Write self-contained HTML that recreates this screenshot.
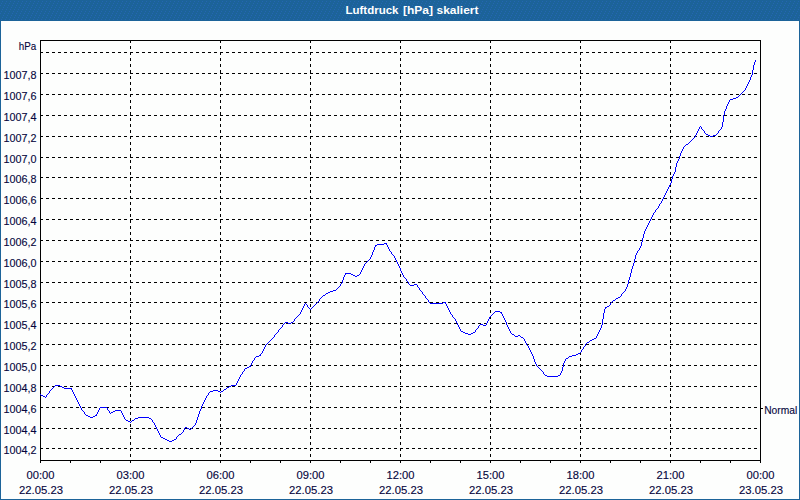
<!DOCTYPE html>
<html lang="de"><head><meta charset="utf-8"><title>Luftdruck [hPa] skaliert</title>
<style>
html,body{margin:0;padding:0;background:#fff;}
body{width:800px;height:500px;overflow:hidden;}
svg{display:block;}
text{font-family:"Liberation Sans",sans-serif;font-size:11px;}
.t{fill:#05053c;stroke:#05053c;stroke-width:0.12px;}
.g{stroke:#000;stroke-width:1;stroke-dasharray:3 3;shape-rendering:crispEdges;fill:none;}
.a{stroke:#000;stroke-width:1;shape-rendering:crispEdges;fill:none;}
</style></head><body>
<svg width="800" height="500" viewBox="0 0 800 500">
<defs><pattern id="dth" width="4" height="8" patternUnits="userSpaceOnUse"><rect width="4" height="8" fill="#1c6399"/><path d="M2 1h1v1h-1zM1 3h1v1h-1zM0 5h1v1h-1zM3 7h1v1h-1z" fill="#2466b2" shape-rendering="crispEdges"/></pattern></defs>
<rect x="0" y="0" width="800" height="500" fill="#1c6399"/>
<rect x="0" y="0" width="800" height="21" fill="url(#dth)"/>
<rect x="1" y="21" width="798" height="478" fill="#fdfefd"/>
<g fill="#fff" font-weight="bold"><text x="345.5" y="14" textLength="53" lengthAdjust="spacingAndGlyphs">Luftdruck</text>
<text x="403" y="14" textLength="30" lengthAdjust="spacingAndGlyphs">[hPa]</text>
<text x="436.5" y="14" textLength="42" lengthAdjust="spacingAndGlyphs">skaliert</text></g>

<line class="g" x1="40" y1="52.5" x2="760" y2="52.5"/>
<line class="g" x1="40" y1="73.5" x2="760" y2="73.5"/>
<line class="g" x1="40" y1="94.5" x2="760" y2="94.5"/>
<line class="g" x1="40" y1="115.5" x2="760" y2="115.5"/>
<line class="g" x1="40" y1="136.5" x2="760" y2="136.5"/>
<line class="g" x1="40" y1="157.5" x2="760" y2="157.5"/>
<line class="g" x1="40" y1="177.5" x2="760" y2="177.5"/>
<line class="g" x1="40" y1="198.5" x2="760" y2="198.5"/>
<line class="g" x1="40" y1="219.5" x2="760" y2="219.5"/>
<line class="g" x1="40" y1="240.5" x2="760" y2="240.5"/>
<line class="g" x1="40" y1="261.5" x2="760" y2="261.5"/>
<line class="g" x1="40" y1="282.5" x2="760" y2="282.5"/>
<line class="g" x1="40" y1="302.5" x2="760" y2="302.5"/>
<line class="g" x1="40" y1="323.5" x2="760" y2="323.5"/>
<line class="g" x1="40" y1="344.5" x2="760" y2="344.5"/>
<line class="g" x1="40" y1="365.5" x2="760" y2="365.5"/>
<line class="g" x1="40" y1="386.5" x2="760" y2="386.5"/>
<line class="g" x1="40" y1="407.5" x2="760" y2="407.5"/>
<line class="g" x1="40" y1="428.5" x2="760" y2="428.5"/>
<line class="g" x1="40" y1="448.5" x2="760" y2="448.5"/>
<line class="g" x1="130.5" y1="40" x2="130.5" y2="460"/>
<line class="g" x1="220.5" y1="40" x2="220.5" y2="460"/>
<line class="g" x1="310.5" y1="40" x2="310.5" y2="460"/>
<line class="g" x1="400.5" y1="40" x2="400.5" y2="460"/>
<line class="g" x1="490.5" y1="40" x2="490.5" y2="460"/>
<line class="g" x1="580.5" y1="40" x2="580.5" y2="460"/>
<line class="g" x1="670.5" y1="40" x2="670.5" y2="460"/>
<rect class="a" x="40.5" y="40.5" width="720" height="420"/>
<line class="a" x1="40.5" y1="461" x2="40.5" y2="463"/>
<line class="a" x1="70.5" y1="461" x2="70.5" y2="463"/>
<line class="a" x1="100.5" y1="461" x2="100.5" y2="463"/>
<line class="a" x1="130.5" y1="461" x2="130.5" y2="463"/>
<line class="a" x1="160.5" y1="461" x2="160.5" y2="463"/>
<line class="a" x1="190.5" y1="461" x2="190.5" y2="463"/>
<line class="a" x1="220.5" y1="461" x2="220.5" y2="463"/>
<line class="a" x1="250.5" y1="461" x2="250.5" y2="463"/>
<line class="a" x1="280.5" y1="461" x2="280.5" y2="463"/>
<line class="a" x1="310.5" y1="461" x2="310.5" y2="463"/>
<line class="a" x1="340.5" y1="461" x2="340.5" y2="463"/>
<line class="a" x1="370.5" y1="461" x2="370.5" y2="463"/>
<line class="a" x1="400.5" y1="461" x2="400.5" y2="463"/>
<line class="a" x1="430.5" y1="461" x2="430.5" y2="463"/>
<line class="a" x1="460.5" y1="461" x2="460.5" y2="463"/>
<line class="a" x1="490.5" y1="461" x2="490.5" y2="463"/>
<line class="a" x1="520.5" y1="461" x2="520.5" y2="463"/>
<line class="a" x1="550.5" y1="461" x2="550.5" y2="463"/>
<line class="a" x1="580.5" y1="461" x2="580.5" y2="463"/>
<line class="a" x1="610.5" y1="461" x2="610.5" y2="463"/>
<line class="a" x1="640.5" y1="461" x2="640.5" y2="463"/>
<line class="a" x1="670.5" y1="461" x2="670.5" y2="463"/>
<line class="a" x1="700.5" y1="461" x2="700.5" y2="463"/>
<line class="a" x1="730.5" y1="461" x2="730.5" y2="463"/>
<line class="a" x1="760.5" y1="461" x2="760.5" y2="463"/>
<line class="a" x1="761" y1="408.5" x2="763" y2="408.5"/>
<path d="M40 394h1v1h-1zM41 395h2v1h-2zM43 396h2v1h-2zM45 397h1v1h-1zM46 395h1v2h-1zM47 394h1v1h-1zM48 393h1v1h-1zM49 391h1v2h-1zM50 390h1v1h-1zM51 389h1v1h-1zM52 388h1v1h-1zM53 387h1v1h-1zM54 386h1v1h-1zM55 385h5v1h-5zM60 386h2v1h-2zM62 387h2v1h-2zM64 388h8v1h-8zM71 389h1v1h-1zM72 390h1v2h-1zM73 392h1v2h-1zM74 394h1v2h-1zM75 396h1v2h-1zM76 398h1v2h-1zM77 400h1v2h-1zM78 402h1v2h-1zM79 404h1v2h-1zM80 406h1v2h-1zM81 408h1v2h-1zM82 410h1v1h-1zM83 411h1v1h-1zM84 412h1v2h-1zM85 414h1v1h-1zM86 415h2v1h-2zM88 416h2v1h-2zM90 417h3v1h-3zM93 416h2v1h-2zM95 415h2v1h-2zM96 414h1v1h-1zM97 412h1v2h-1zM98 410h1v2h-1zM99 408h1v2h-1zM100 407h7v1h-7zM107 408h1v2h-1zM108 410h1v1h-1zM109 411h1v2h-1zM110 413h1v1h-1zM111 412h2v1h-2zM113 411h2v1h-2zM115 410h6v1h-6zM121 411h1v2h-1zM122 413h1v2h-1zM123 415h1v2h-1zM124 417h1v2h-1zM125 419h1v1h-1zM126 420h2v1h-2zM128 421h2v1h-2zM130 422h1v1h-1zM131 421h1v1h-1zM132 420h2v1h-2zM134 419h1v1h-1zM135 418h3v1h-3zM138 417h11v1h-11zM149 418h2v1h-2zM151 419h1v1h-1zM152 420h1v2h-1zM153 422h1v1h-1zM154 423h1v2h-1zM155 425h1v2h-1zM156 427h1v2h-1zM157 429h1v2h-1zM158 431h1v2h-1zM159 433h1v2h-1zM160 435h1v2h-1zM161 437h2v1h-2zM163 438h2v1h-2zM165 439h2v1h-2zM167 440h2v1h-2zM169 441h3v1h-3zM172 440h2v1h-2zM174 439h2v1h-2zM176 437h1v2h-1zM177 436h1v1h-1zM178 435h1v1h-1zM179 434h2v1h-2zM181 433h1v1h-1zM182 432h1v1h-1zM183 430h1v2h-1zM184 428h1v2h-1zM185 427h2v1h-2zM187 428h2v1h-2zM189 429h2v1h-2zM191 428h1v1h-1zM192 427h1v1h-1zM193 426h1v1h-1zM194 425h1v1h-1zM195 423h1v2h-1zM196 420h1v3h-1zM197 417h1v3h-1zM198 414h1v3h-1zM199 411h1v3h-1zM200 409h1v2h-1zM201 406h1v3h-1zM202 404h1v2h-1zM203 402h1v2h-1zM204 400h1v2h-1zM205 398h1v2h-1zM206 396h1v2h-1zM207 395h1v1h-1zM208 393h1v2h-1zM209 392h1v1h-1zM210 391h3v1h-3zM213 390h5v1h-5zM218 391h2v1h-2zM220 392h1v1h-1zM221 391h2v1h-2zM223 390h1v1h-1zM224 389h2v1h-2zM226 388h1v1h-1zM227 387h2v1h-2zM229 386h2v1h-2zM231 385h5v1h-5zM236 383h1v2h-1zM237 381h1v2h-1zM238 379h1v2h-1zM239 377h1v2h-1zM240 375h1v2h-1zM241 374h1v1h-1zM242 372h1v2h-1zM243 371h1v1h-1zM244 369h1v2h-1zM245 368h2v1h-2zM247 367h2v1h-2zM249 366h2v1h-2zM250 365h1v1h-1zM251 363h1v2h-1zM252 361h1v2h-1zM253 360h1v1h-1zM254 358h1v2h-1zM255 357h1v1h-1zM256 356h3v1h-3zM259 355h2v1h-2zM260 354h1v1h-1zM261 353h1v1h-1zM262 351h1v2h-1zM263 349h1v2h-1zM264 347h1v2h-1zM265 345h1v2h-1zM266 344h1v1h-1zM267 343h1v1h-1zM268 342h1v1h-1zM269 341h1v1h-1zM270 340h1v1h-1zM271 339h1v1h-1zM272 338h1v1h-1zM273 337h1v1h-1zM274 335h1v2h-1zM275 334h1v1h-1zM276 333h1v1h-1zM277 332h1v1h-1zM278 330h1v2h-1zM279 329h1v1h-1zM280 328h1v1h-1zM281 327h1v1h-1zM282 325h1v2h-1zM283 324h1v1h-1zM284 323h1v1h-1zM285 322h3v1h-3zM288 323h3v1h-3zM291 322h2v1h-2zM293 321h1v1h-1zM294 319h1v2h-1zM295 318h1v1h-1zM296 317h1v1h-1zM297 316h1v1h-1zM298 315h1v1h-1zM299 314h1v1h-1zM300 312h1v2h-1zM301 310h1v2h-1zM302 308h1v2h-1zM303 306h1v2h-1zM304 304h1v2h-1zM305 303h1v1h-1zM306 304h1v1h-1zM307 305h1v2h-1zM308 307h1v1h-1zM309 308h1v1h-1zM310 309h1v1h-1zM311 308h1v1h-1zM312 307h1v1h-1zM313 306h1v1h-1zM314 305h1v1h-1zM315 304h1v1h-1zM316 303h1v1h-1zM317 302h1v1h-1zM318 301h1v1h-1zM319 299h1v2h-1zM320 298h1v1h-1zM321 297h1v1h-1zM322 296h1v1h-1zM323 295h2v1h-2zM325 294h1v1h-1zM326 293h2v1h-2zM328 292h2v1h-2zM330 291h3v1h-3zM333 290h3v1h-3zM336 289h1v1h-1zM337 288h1v1h-1zM338 287h1v1h-1zM339 286h1v1h-1zM340 284h1v2h-1zM341 283h1v1h-1zM342 280h1v3h-1zM343 277h1v3h-1zM344 275h1v2h-1zM345 273h6v1h-6zM345 274h1v1h-1zM351 274h2v1h-2zM353 275h2v1h-2zM355 276h2v1h-2zM357 275h2v1h-2zM359 274h1v1h-1zM360 272h1v2h-1zM361 270h1v2h-1zM362 268h1v2h-1zM363 266h1v2h-1zM364 264h1v2h-1zM365 263h1v1h-1zM366 262h1v1h-1zM367 261h1v1h-1zM368 260h1v1h-1zM369 259h1v1h-1zM370 257h1v2h-1zM371 255h1v2h-1zM372 252h1v3h-1zM373 250h1v2h-1zM374 247h1v3h-1zM375 245h2v1h-2zM375 246h1v1h-1zM377 244h7v1h-7zM384 243h3v1h-3zM386 244h1v1h-1zM387 245h1v2h-1zM388 247h1v2h-1zM389 249h1v2h-1zM390 251h1v1h-1zM391 252h1v2h-1zM392 254h1v1h-1zM393 255h1v1h-1zM394 256h1v2h-1zM395 258h1v2h-1zM396 260h1v2h-1zM397 262h1v2h-1zM398 264h1v2h-1zM399 266h1v2h-1zM400 268h1v3h-1zM401 271h1v2h-1zM402 273h1v2h-1zM403 275h1v2h-1zM404 277h1v1h-1zM405 278h1v1h-1zM406 279h1v2h-1zM407 281h1v1h-1zM408 282h1v2h-1zM409 284h1v1h-1zM410 285h4v1h-4zM414 284h3v1h-3zM417 285h1v2h-1zM418 287h1v1h-1zM419 288h1v2h-1zM420 290h1v1h-1zM421 291h1v1h-1zM422 292h1v2h-1zM423 294h1v1h-1zM424 295h1v1h-1zM425 296h1v2h-1zM426 298h1v1h-1zM427 299h1v1h-1zM428 300h1v2h-1zM429 302h1v1h-1zM430 303h13v1h-13zM443 302h3v1h-3zM445 303h1v1h-1zM446 304h1v2h-1zM447 306h1v2h-1zM448 308h1v2h-1zM449 310h1v2h-1zM450 312h1v2h-1zM451 314h1v1h-1zM452 315h1v2h-1zM453 317h1v1h-1zM454 318h1v1h-1zM455 319h1v2h-1zM456 321h1v2h-1zM457 323h1v2h-1zM458 325h1v2h-1zM459 327h1v2h-1zM460 329h1v2h-1zM461 331h2v1h-2zM463 332h2v1h-2zM465 333h3v1h-3zM468 334h3v1h-3zM471 333h2v1h-2zM473 332h2v1h-2zM475 330h1v2h-1zM476 329h1v1h-1zM477 328h1v1h-1zM478 326h1v2h-1zM479 325h1v1h-1zM480 324h3v1h-3zM483 325h3v1h-3zM486 323h1v2h-1zM487 321h1v2h-1zM488 319h1v2h-1zM489 317h1v2h-1zM490 316h1v1h-1zM491 315h1v1h-1zM492 314h1v1h-1zM493 313h1v1h-1zM494 312h1v1h-1zM495 311h5v1h-5zM500 312h2v1h-2zM501 313h1v1h-1zM502 314h1v2h-1zM503 316h1v2h-1zM504 318h1v2h-1zM505 320h1v2h-1zM506 322h1v3h-1zM507 325h1v2h-1zM508 327h1v2h-1zM509 329h1v2h-1zM510 331h1v2h-1zM511 333h1v1h-1zM512 334h2v1h-2zM514 335h1v1h-1zM515 336h3v1h-3zM518 335h2v1h-2zM520 336h1v1h-1zM521 337h2v1h-2zM523 338h1v1h-1zM524 339h1v2h-1zM525 341h1v2h-1zM526 343h1v2h-1zM527 345h1v1h-1zM528 346h1v2h-1zM529 348h1v2h-1zM530 350h1v2h-1zM531 352h1v2h-1zM532 354h1v2h-1zM533 356h1v3h-1zM534 359h1v3h-1zM535 362h1v2h-1zM536 364h1v2h-1zM537 366h1v1h-1zM538 367h1v1h-1zM539 368h1v1h-1zM540 369h1v1h-1zM541 370h1v1h-1zM542 371h1v1h-1zM543 372h1v2h-1zM544 374h1v1h-1zM545 375h2v1h-2zM547 376h11v1h-11zM558 375h2v1h-2zM560 373h1v2h-1zM561 371h1v2h-1zM562 367h1v4h-1zM563 363h1v4h-1zM564 361h1v2h-1zM565 359h1v2h-1zM566 358h2v1h-2zM568 357h1v1h-1zM569 356h3v1h-3zM572 355h4v1h-4zM576 354h2v1h-2zM578 353h2v1h-2zM580 352h1v1h-1zM581 350h1v2h-1zM582 349h1v1h-1zM583 347h1v2h-1zM584 346h1v1h-1zM585 344h1v2h-1zM586 343h1v1h-1zM587 342h2v1h-2zM589 341h1v1h-1zM590 340h2v1h-2zM592 339h2v1h-2zM594 338h2v1h-2zM596 336h1v2h-1zM597 334h1v2h-1zM598 332h1v2h-1zM599 330h1v2h-1zM600 328h1v2h-1zM601 325h1v3h-1zM602 319h1v6h-1zM603 313h1v6h-1zM604 309h1v4h-1zM605 307h2v1h-2zM605 308h1v1h-1zM607 306h2v1h-2zM609 305h1v1h-1zM610 303h1v2h-1zM611 302h1v1h-1zM612 301h1v1h-1zM613 300h2v1h-2zM615 299h1v1h-1zM616 298h2v1h-2zM618 297h2v1h-2zM620 296h1v1h-1zM621 294h1v2h-1zM622 293h1v1h-1zM623 292h1v1h-1zM624 291h1v1h-1zM625 289h1v2h-1zM626 287h1v2h-1zM627 284h1v3h-1zM628 280h1v4h-1zM629 277h1v3h-1zM630 273h1v4h-1zM631 269h1v4h-1zM632 266h1v3h-1zM633 263h1v3h-1zM634 259h1v4h-1zM635 255h1v4h-1zM636 253h1v2h-1zM637 251h1v2h-1zM638 250h1v1h-1zM639 248h1v2h-1zM640 246h1v2h-1zM641 242h1v4h-1zM642 238h1v4h-1zM643 234h1v4h-1zM644 231h1v3h-1zM645 229h1v2h-1zM646 227h1v2h-1zM647 225h1v2h-1zM648 223h1v2h-1zM649 221h1v2h-1zM650 219h1v2h-1zM651 217h1v2h-1zM652 215h1v2h-1zM653 213h1v2h-1zM654 212h1v1h-1zM655 210h1v2h-1zM656 209h1v1h-1zM657 208h1v1h-1zM658 206h1v2h-1zM659 204h1v2h-1zM660 203h1v1h-1zM661 201h1v2h-1zM662 199h1v2h-1zM663 197h1v2h-1zM664 195h1v2h-1zM665 193h1v2h-1zM666 191h1v2h-1zM667 189h1v2h-1zM668 187h1v2h-1zM669 185h1v2h-1zM670 183h1v2h-1zM671 179h1v4h-1zM672 176h1v3h-1zM673 174h1v2h-1zM674 172h1v2h-1zM675 167h1v5h-1zM676 163h1v4h-1zM677 161h1v2h-1zM678 159h1v2h-1zM679 156h1v3h-1zM680 153h1v3h-1zM681 151h1v2h-1zM682 149h1v2h-1zM683 147h1v2h-1zM684 146h1v1h-1zM685 145h1v1h-1zM686 144h2v1h-2zM688 143h1v1h-1zM689 142h1v1h-1zM690 141h1v1h-1zM691 140h1v1h-1zM692 139h1v1h-1zM693 138h1v1h-1zM694 137h1v1h-1zM695 135h1v2h-1zM696 133h1v2h-1zM697 131h1v2h-1zM698 129h1v2h-1zM699 127h1v2h-1zM700 126h1v1h-1zM701 127h1v2h-1zM702 129h1v1h-1zM703 130h1v1h-1zM704 131h1v2h-1zM705 133h1v1h-1zM706 134h2v1h-2zM708 135h2v1h-2zM710 136h3v1h-3zM713 135h3v1h-3zM716 134h1v1h-1zM717 133h1v1h-1zM718 131h1v2h-1zM719 130h1v1h-1zM720 129h1v1h-1zM721 127h1v2h-1zM722 122h1v5h-1zM723 115h1v7h-1zM724 111h1v4h-1zM725 109h1v2h-1zM726 106h1v3h-1zM727 104h1v2h-1zM728 102h1v2h-1zM729 100h1v2h-1zM730 99h3v1h-3zM733 98h3v1h-3zM736 97h2v1h-2zM738 96h1v1h-1zM739 95h1v1h-1zM740 94h1v1h-1zM741 93h1v1h-1zM742 92h1v1h-1zM743 91h1v1h-1zM744 90h1v1h-1zM745 88h1v2h-1zM746 86h1v2h-1zM747 84h1v2h-1zM748 82h1v2h-1zM749 80h1v2h-1zM750 77h1v3h-1zM751 75h1v2h-1zM752 70h1v5h-1zM753 65h1v5h-1zM754 62h1v3h-1zM755 60h1v2h-1z" fill="#0000ff" shape-rendering="crispEdges"/>
<text class="t" x="36.2" y="50" text-anchor="end" textLength="17.5" lengthAdjust="spacingAndGlyphs">hPa</text>
<text class="t" x="36.6" y="79" text-anchor="end" textLength="33" lengthAdjust="spacingAndGlyphs">1007,8</text>
<text class="t" x="36.6" y="100" text-anchor="end" textLength="33" lengthAdjust="spacingAndGlyphs">1007,6</text>
<text class="t" x="36.6" y="121" text-anchor="end" textLength="33" lengthAdjust="spacingAndGlyphs">1007,4</text>
<text class="t" x="36.6" y="142" text-anchor="end" textLength="33" lengthAdjust="spacingAndGlyphs">1007,2</text>
<text class="t" x="36.6" y="163" text-anchor="end" textLength="33" lengthAdjust="spacingAndGlyphs">1007,0</text>
<text class="t" x="36.6" y="183" text-anchor="end" textLength="33" lengthAdjust="spacingAndGlyphs">1006,8</text>
<text class="t" x="36.6" y="204" text-anchor="end" textLength="33" lengthAdjust="spacingAndGlyphs">1006,6</text>
<text class="t" x="36.6" y="225" text-anchor="end" textLength="33" lengthAdjust="spacingAndGlyphs">1006,4</text>
<text class="t" x="36.6" y="246" text-anchor="end" textLength="33" lengthAdjust="spacingAndGlyphs">1006,2</text>
<text class="t" x="36.6" y="267" text-anchor="end" textLength="33" lengthAdjust="spacingAndGlyphs">1006,0</text>
<text class="t" x="36.6" y="288" text-anchor="end" textLength="33" lengthAdjust="spacingAndGlyphs">1005,8</text>
<text class="t" x="36.6" y="308" text-anchor="end" textLength="33" lengthAdjust="spacingAndGlyphs">1005,6</text>
<text class="t" x="36.6" y="329" text-anchor="end" textLength="33" lengthAdjust="spacingAndGlyphs">1005,4</text>
<text class="t" x="36.6" y="350" text-anchor="end" textLength="33" lengthAdjust="spacingAndGlyphs">1005,2</text>
<text class="t" x="36.6" y="371" text-anchor="end" textLength="33" lengthAdjust="spacingAndGlyphs">1005,0</text>
<text class="t" x="36.6" y="392" text-anchor="end" textLength="33" lengthAdjust="spacingAndGlyphs">1004,8</text>
<text class="t" x="36.6" y="413" text-anchor="end" textLength="33" lengthAdjust="spacingAndGlyphs">1004,6</text>
<text class="t" x="36.6" y="434" text-anchor="end" textLength="33" lengthAdjust="spacingAndGlyphs">1004,4</text>
<text class="t" x="36.6" y="454" text-anchor="end" textLength="33" lengthAdjust="spacingAndGlyphs">1004,2</text>
<text class="t" x="764.2" y="414" textLength="33" lengthAdjust="spacingAndGlyphs">Normal</text>
<text class="t" x="40.5" y="479" text-anchor="middle" textLength="28" lengthAdjust="spacingAndGlyphs">00:00</text>
<text class="t" x="41" y="494" text-anchor="middle" textLength="44" lengthAdjust="spacingAndGlyphs">22.05.23</text>
<text class="t" x="130.5" y="479" text-anchor="middle" textLength="28" lengthAdjust="spacingAndGlyphs">03:00</text>
<text class="t" x="131" y="494" text-anchor="middle" textLength="44" lengthAdjust="spacingAndGlyphs">22.05.23</text>
<text class="t" x="220.5" y="479" text-anchor="middle" textLength="28" lengthAdjust="spacingAndGlyphs">06:00</text>
<text class="t" x="221" y="494" text-anchor="middle" textLength="44" lengthAdjust="spacingAndGlyphs">22.05.23</text>
<text class="t" x="310.5" y="479" text-anchor="middle" textLength="28" lengthAdjust="spacingAndGlyphs">09:00</text>
<text class="t" x="311" y="494" text-anchor="middle" textLength="44" lengthAdjust="spacingAndGlyphs">22.05.23</text>
<text class="t" x="400.5" y="479" text-anchor="middle" textLength="28" lengthAdjust="spacingAndGlyphs">12:00</text>
<text class="t" x="401" y="494" text-anchor="middle" textLength="44" lengthAdjust="spacingAndGlyphs">22.05.23</text>
<text class="t" x="490.5" y="479" text-anchor="middle" textLength="28" lengthAdjust="spacingAndGlyphs">15:00</text>
<text class="t" x="491" y="494" text-anchor="middle" textLength="44" lengthAdjust="spacingAndGlyphs">22.05.23</text>
<text class="t" x="580.5" y="479" text-anchor="middle" textLength="28" lengthAdjust="spacingAndGlyphs">18:00</text>
<text class="t" x="581" y="494" text-anchor="middle" textLength="44" lengthAdjust="spacingAndGlyphs">22.05.23</text>
<text class="t" x="670.5" y="479" text-anchor="middle" textLength="28" lengthAdjust="spacingAndGlyphs">21:00</text>
<text class="t" x="671" y="494" text-anchor="middle" textLength="44" lengthAdjust="spacingAndGlyphs">22.05.23</text>
<text class="t" x="760.5" y="479" text-anchor="middle" textLength="28" lengthAdjust="spacingAndGlyphs">00:00</text>
<text class="t" x="761" y="494" text-anchor="middle" textLength="44" lengthAdjust="spacingAndGlyphs">23.05.23</text>
</svg></body></html>
